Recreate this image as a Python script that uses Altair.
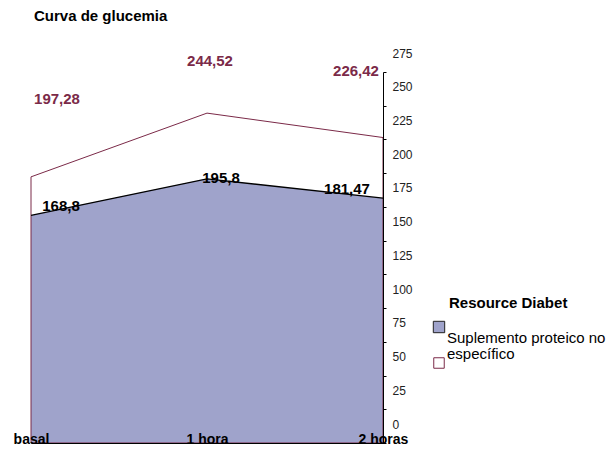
import altair as alt
import pandas as pd

categories = ["basal", "1 hora", "2 horas"]
series_names = ["Suplemento proteico no específico", "Resource Diabet"]
suplemento = [197.28, 244.52, 226.42]
resource = [168.8, 195.8, 181.47]
suplemento_labels = ["197,28", "244,52", "226,42"]
resource_labels = ["168,8", "195,8", "181,47"]
y_ticks = list(range(0, 276, 25))
title_text = "Curva de glucemia"
legend_title = "Resource Diabet"
legend_lines = ["Suplemento proteico no", "específico"]

rows = []
for s, vals, labs in [(series_names[0], suplemento, suplemento_labels),
                      (series_names[1], resource, resource_labels)]:
    for i, (c, v, l) in enumerate(zip(categories, vals, labs)):
        rows.append({"serie": s, "momento": c, "idx": i, "valor": v, "etiqueta": l})
df = pd.DataFrame(rows)

MAROON = "#7B2A48"
BLUE = "#9FA3CB"
FONT = "Liberation Sans"

x_enc = alt.X("momento:N", sort=categories,
              scale=alt.Scale(type="point", padding=0),
              axis=alt.Axis(title=None, labelAngle=0, ticks=False, tickSize=0,
                            labelPadding=-11, labelFontWeight="bold", labelFontSize=14,
                            labelColor="#000000", domainColor="#000000", labelFont=FONT,
                            zindex=2))
y_enc = alt.Y("valor:Q", stack=None, scale=alt.Scale(domain=[0, 275], nice=False, zero=True),
              axis=alt.Axis(title=None, orient="right", values=y_ticks, grid=False,
                            tickSize=3, tickColor="#000000", domainColor="#000000",
                            labelOffset=-19, labelPadding=6, labelFontSize=12,
                            labelColor="#222222", labelFont=FONT, labelAlign="left",
                            zindex=2))

supl = alt.Chart(df).transform_filter(alt.datum.serie == series_names[0])
res = alt.Chart(df).transform_filter(alt.datum.serie == series_names[1])

area_supl = supl.mark_area(fill="#ffffff", strokeWidth=0).encode(x=x_enc, y=y_enc)
area_res = res.mark_area(fill=BLUE, strokeWidth=0).encode(x=x_enc, y=y_enc)
outline_supl = supl.mark_area(fill=None, fillOpacity=0, stroke=MAROON, strokeWidth=1).encode(x=x_enc, y=y_enc)
top_line = res.mark_line(color="#000000", strokeWidth=1.3).encode(x=x_enc, y=y_enc)

# label offsets (styling only)
offsets = {
    series_names[0]: [(26, -78), (3, -52), (-27, -67)],
    series_names[1]: [(30, -9), (14, -1), (-36, -9)],
}
label_layers = []
for s, col in [(series_names[0], MAROON), (series_names[1], "#000000")]:
    for i, (dx, dy) in enumerate(offsets[s]):
        label_layers.append(
            alt.Chart(df).transform_filter(
                (alt.datum.serie == s) & (alt.datum.idx == i)
            ).mark_text(dx=dx, dy=dy, fontSize=15, fontWeight="bold", color=col,
                        font=FONT, align="center", baseline="middle").encode(
                x=x_enc, y=y_enc, text="etiqueta:N")
        )

# legend (decoration)
leg_df = pd.DataFrame({"t": [0]})
leg_title = alt.Chart(leg_df).mark_text(
    text=legend_title, font=FONT, fontSize=15, fontWeight="bold", align="left",
    baseline="middle", color="#000000").encode(x=alt.value(418), y=alt.value(231))
leg_sq1 = alt.Chart(leg_df).mark_square(
    size=130, fill=BLUE, stroke="#222222", strokeWidth=1, opacity=1).encode(
    x=alt.value(408), y=alt.value(255))
leg_sq2 = alt.Chart(leg_df).mark_square(
    size=110, fill="#ffffff", stroke=MAROON, strokeWidth=1, opacity=1).encode(
    x=alt.value(408), y=alt.value(291))
leg_t1 = alt.Chart(leg_df).mark_text(
    text=legend_lines[0], font=FONT, fontSize=15, align="left", baseline="middle",
    color="#000000").encode(x=alt.value(416), y=alt.value(266))
leg_t2 = alt.Chart(leg_df).mark_text(
    text=legend_lines[1], font=FONT, fontSize=15, align="left", baseline="middle",
    color="#000000").encode(x=alt.value(416), y=alt.value(282))

title_layer = alt.Chart(leg_df).mark_text(
    text=title_text, font=FONT, fontSize=15, fontWeight="bold", align="left",
    baseline="middle", color="#000000").encode(x=alt.value(3), y=alt.value(-56))

chart = alt.layer(area_supl, area_res, outline_supl, top_line, *label_layers,
                  leg_title, leg_sq1, leg_sq2, leg_t1, leg_t2, title_layer).properties(
    width=352, height=371,
    background="#ffffff",
    autosize=alt.AutoSizeParams(type="none"),
    padding={"left": 23, "top": 64, "right": 225, "bottom": 7},
).configure_view(stroke=None)

chart.save("out.html", embed_options={"renderer": "svg", "actions": False})
